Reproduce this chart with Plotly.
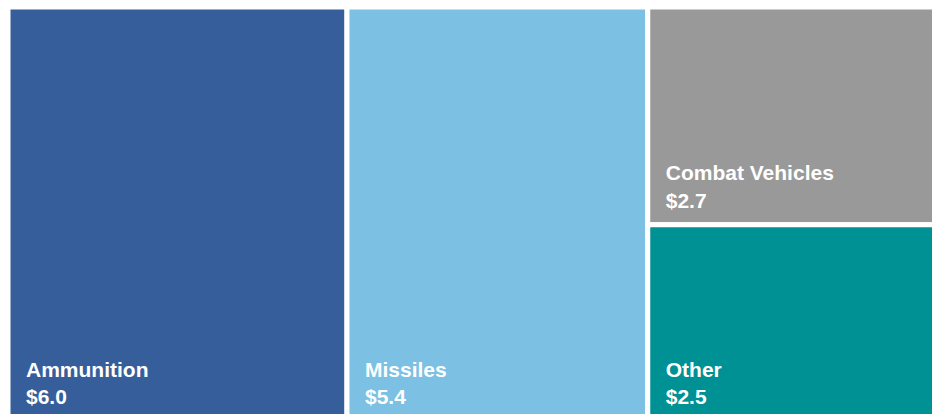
import plotly.graph_objects as go

categories = ["Ammunition", "Missiles", "Combat Vehicles", "Other"]
# values as read from the tile areas (labels show them rounded to one decimal)
values = [6.04, 5.36, 2.73, 2.46]
colors = ["#365E9A", "#7CC0E4", "#999999", "#009194"]

root = "Total"
labels = [root] + categories
parents = [""] + [root] * len(categories)
vals = [sum(values)] + values
cols = ["white"] + colors
line_w = [0] + [5] * len(categories)
spacer = "<span style='font-size:18px'>&nbsp;&nbsp;&nbsp;</span>"
leaf_tpl = (spacer + "<b>%{label}</b><br>"
            + spacer + "<b>$%{value:.1f}</b>"
            + "<span style='font-size:65px'>&nbsp;</span>")
templates = [""] + [leaf_tpl] * len(categories)

fig = go.Figure(go.Treemap(
    labels=labels,
    parents=parents,
    values=vals,
    branchvalues="total",
    sort=True,
    tiling=dict(packing="squarify", pad=0),
    marker=dict(colors=cols, line=dict(color="white", width=line_w), pad=dict(t=0, l=0, r=0, b=0)),
    texttemplate=templates,
    textposition="bottom left",
    textfont=dict(family="Liberation Sans, Arial, sans-serif", size=21, color="white"),
    hoverinfo="label+value",
    pathbar=dict(visible=False),
))

fig.update_layout(
    width=939, height=421,
    margin=dict(l=8, r=0, t=7, b=0),
    paper_bgcolor="white",
    uniformtext=dict(minsize=21, mode="show"),
)

fig.write_html("out.html", config={"displayModeBar": False},
               post_script="document.body.style.margin='0';")
